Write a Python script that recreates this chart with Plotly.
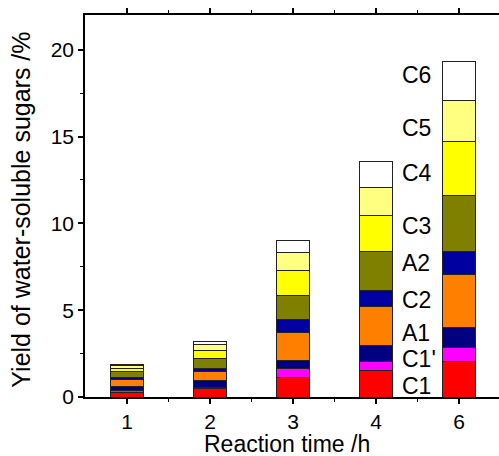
import plotly.graph_objects as go

# ---- data ----
times = ["1", "2", "3", "4", "6"]
series_names = ["C1", "C1'", "A1", "C2", "A2", "C3", "C4", "C5", "C6"]
C1 = [0.28, 0.48, 1.15, 1.54, 2.06]
C1p = [0.10, 0.08, 0.49, 0.50, 0.77]
A1 = [0.20, 0.38, 0.48, 0.90, 1.17]
C2 = [0.45, 0.52, 1.60, 2.29, 3.06]
A2 = [0.12, 0.16, 0.75, 0.92, 1.31]
C3 = [0.30, 0.57, 1.40, 2.22, 3.23]
C4 = [0.20, 0.48, 1.44, 2.11, 3.13]
C5 = [0.15, 0.37, 1.00, 1.56, 2.33]
C6 = [0.10, 0.15, 0.73, 1.50, 2.24]
series_values = [C1, C1p, A1, C2, A2, C3, C4, C5, C6]
y_ticks = [0, 5, 10, 15, 20]

colors = ["#FF0000", "#FF00FF", "#000080", "#FF8000", "#0000A0",
          "#808000", "#FFFF00", "#FFFF80", "#FFFFFF"]

xpos = list(range(1, len(times) + 1))

FAM = "Liberation Sans, Arial"
font = dict(family=FAM, size=23, color="black")
yfont = dict(family=FAM, size=25, color="black")
lfont = dict(family=FAM, size=23, color="black")
tfont = dict(family=FAM, size=21, color="black")

fig = go.Figure()
for name, vals, col in zip(series_names, series_values, colors):
    fig.add_trace(go.Bar(
        x=xpos, y=vals, name=name, width=0.4,
        marker=dict(color=col, line=dict(color="#222222", width=1)),
        showlegend=False,
    ))

# segment labels beside the last bar
label_y = [0.66, 2.18, 3.70, 5.58, 7.71, 9.85, 12.9, 15.5, 18.56]
for name, yy in zip(series_names, label_y):
    fig.add_annotation(x=4.30, y=yy, text=name, showarrow=False,
                       xanchor="left", yanchor="middle", font=lfont,
                       borderpad=0)

# axis titles
fig.add_annotation(xref="paper", yref="paper", x=0.488, y=-0.122,
                   text="Reaction time /h", showarrow=False,
                   xanchor="center", yanchor="middle", font=font, borderpad=0)
fig.add_annotation(xref="paper", yref="paper", x=-0.155, y=0.49,
                   text="Yield of water-soluble sugars /%", showarrow=False,
                   textangle=-90, xanchor="center", yanchor="middle", font=yfont)

fig.update_layout(
    barmode="stack",
    width=499, height=456,
    margin=dict(l=85, r=0, t=15, b=59),
    plot_bgcolor="white", paper_bgcolor="white",
    font=font,
    xaxis=dict(
        range=[0.494, 5.48], automargin=False,
        tickmode="array", tickvals=xpos, ticktext=times,
        ticks="outside", ticklen=5, tickwidth=1.5, tickcolor="black",
        showline=True, linecolor="black", linewidth=1.5,
        mirror="allticks", showgrid=False, zeroline=False,
        minor=dict(tickvals=[x + 0.5 for x in xpos], ticks="outside",
                   ticklen=3, tickwidth=1, tickcolor="black"),
        tickfont=tfont,
    ),
    yaxis=dict(
        range=[0, 22], automargin=False,
        tickmode="array", tickvals=y_ticks,
        ticks="outside", ticklen=5, tickwidth=1.5, tickcolor="black",
        showline=True, linecolor="black", linewidth=1.5,
        mirror=False, showgrid=False, zeroline=False,
        minor=dict(dtick=2.5, ticks="outside", ticklen=3, tickwidth=1, tickcolor="black"),
        tickfont=tfont,
    ),
)

fig.write_html("out.html")
